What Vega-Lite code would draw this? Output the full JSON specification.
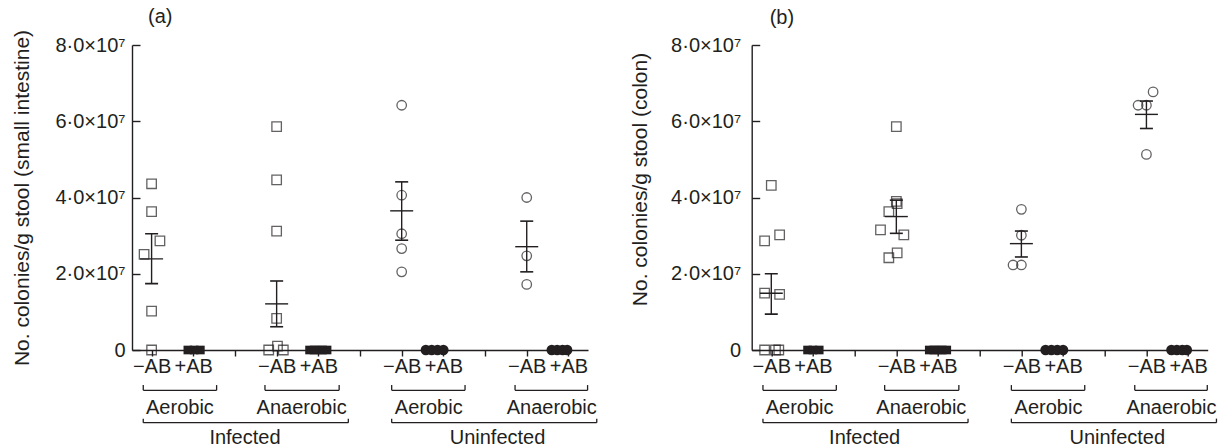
{
  "$schema": "https://vega.github.io/schema/vega-lite/v6.json",
  "background": "white",
  "padding": {"left": 11, "top": 7, "right": 5, "bottom": 5},
  "config": {
    "view": {"stroke": null},
    "font": "Liberation Sans",
    "axis": {"domainColor": "#231f20", "domainWidth": 1.4, "tickColor": "#231f20", "tickWidth": 1.4, "labelColor": "#231f20", "labelFont": "Liberation Sans", "labelFontSize": 20, "titleColor": "#231f20", "titleFont": "Liberation Sans", "titleFontSize": 21, "titleFontWeight": "normal", "grid": false, "labelFlush": false, "labelOverlap": false},
    "title": {"font": "Liberation Sans", "fontSize": 20, "fontWeight": "normal", "color": "#231f20", "anchor": "start", "frame": "group"}
  },
  "datasets": {
    "points": [
      {"panel": "a", "pos": 1.0, "value": 43600000, "status": "Infected", "ab": "-AB"},
      {"panel": "a", "pos": 1.0, "value": 36300000, "status": "Infected", "ab": "-AB"},
      {"panel": "a", "pos": 1.2, "value": 28600000, "status": "Infected", "ab": "-AB"},
      {"panel": "a", "pos": 0.82, "value": 25100000, "status": "Infected", "ab": "-AB"},
      {"panel": "a", "pos": 1.0, "value": 10200000, "status": "Infected", "ab": "-AB"},
      {"panel": "a", "pos": 1.0, "value": 0, "status": "Infected", "ab": "-AB"},
      {"panel": "a", "pos": 1.87, "value": 0, "status": "Infected", "ab": "+AB"},
      {"panel": "a", "pos": 2.02, "value": 0, "status": "Infected", "ab": "+AB"},
      {"panel": "a", "pos": 2.17, "value": 0, "status": "Infected", "ab": "+AB"},
      {"panel": "a", "pos": 4.0, "value": 58600000, "status": "Infected", "ab": "-AB"},
      {"panel": "a", "pos": 4.0, "value": 44600000, "status": "Infected", "ab": "-AB"},
      {"panel": "a", "pos": 4.0, "value": 31200000, "status": "Infected", "ab": "-AB"},
      {"panel": "a", "pos": 4.0, "value": 8300000, "status": "Infected", "ab": "-AB"},
      {"panel": "a", "pos": 3.81, "value": 0, "status": "Infected", "ab": "-AB"},
      {"panel": "a", "pos": 4.16, "value": 0, "status": "Infected", "ab": "-AB"},
      {"panel": "a", "pos": 4.02, "value": 1000000, "status": "Infected", "ab": "-AB"},
      {"panel": "a", "pos": 4.79, "value": 0, "status": "Infected", "ab": "+AB"},
      {"panel": "a", "pos": 4.9, "value": 0, "status": "Infected", "ab": "+AB"},
      {"panel": "a", "pos": 5.0, "value": 0, "status": "Infected", "ab": "+AB"},
      {"panel": "a", "pos": 5.1, "value": 0, "status": "Infected", "ab": "+AB"},
      {"panel": "a", "pos": 5.21, "value": 0, "status": "Infected", "ab": "+AB"},
      {"panel": "a", "pos": 7.0, "value": 64200000, "status": "Uninfected", "ab": "-AB"},
      {"panel": "a", "pos": 7.0, "value": 40600000, "status": "Uninfected", "ab": "-AB"},
      {"panel": "a", "pos": 7.0, "value": 30500000, "status": "Uninfected", "ab": "-AB"},
      {"panel": "a", "pos": 7.0, "value": 26600000, "status": "Uninfected", "ab": "-AB"},
      {"panel": "a", "pos": 7.0, "value": 20500000, "status": "Uninfected", "ab": "-AB"},
      {"panel": "a", "pos": 7.58, "value": 0, "status": "Uninfected", "ab": "+AB"},
      {"panel": "a", "pos": 7.72, "value": 0, "status": "Uninfected", "ab": "+AB"},
      {"panel": "a", "pos": 7.86, "value": 0, "status": "Uninfected", "ab": "+AB"},
      {"panel": "a", "pos": 8.0, "value": 0, "status": "Uninfected", "ab": "+AB"},
      {"panel": "a", "pos": 10.0, "value": 40000000, "status": "Uninfected", "ab": "-AB"},
      {"panel": "a", "pos": 10.0, "value": 24700000, "status": "Uninfected", "ab": "-AB"},
      {"panel": "a", "pos": 10.0, "value": 17200000, "status": "Uninfected", "ab": "-AB"},
      {"panel": "a", "pos": 10.6, "value": 0, "status": "Uninfected", "ab": "+AB"},
      {"panel": "a", "pos": 10.73, "value": 0, "status": "Uninfected", "ab": "+AB"},
      {"panel": "a", "pos": 10.86, "value": 0, "status": "Uninfected", "ab": "+AB"},
      {"panel": "a", "pos": 10.97, "value": 0, "status": "Uninfected", "ab": "+AB"},
      {"panel": "b", "pos": 1.0, "value": 43200000, "status": "Infected", "ab": "-AB"},
      {"panel": "b", "pos": 0.84, "value": 28600000, "status": "Infected", "ab": "-AB"},
      {"panel": "b", "pos": 1.2, "value": 30200000, "status": "Infected", "ab": "-AB"},
      {"panel": "b", "pos": 0.84, "value": 14900000, "status": "Infected", "ab": "-AB"},
      {"panel": "b", "pos": 1.2, "value": 14600000, "status": "Infected", "ab": "-AB"},
      {"panel": "b", "pos": 0.84, "value": 0, "status": "Infected", "ab": "-AB"},
      {"panel": "b", "pos": 1.1, "value": 0, "status": "Infected", "ab": "-AB"},
      {"panel": "b", "pos": 1.18, "value": 0, "status": "Infected", "ab": "-AB"},
      {"panel": "b", "pos": 1.87, "value": 0, "status": "Infected", "ab": "+AB"},
      {"panel": "b", "pos": 2.0, "value": 0, "status": "Infected", "ab": "+AB"},
      {"panel": "b", "pos": 2.15, "value": 0, "status": "Infected", "ab": "+AB"},
      {"panel": "b", "pos": 4.0, "value": 58600000, "status": "Infected", "ab": "-AB"},
      {"panel": "b", "pos": 4.0, "value": 39000000, "status": "Infected", "ab": "-AB"},
      {"panel": "b", "pos": 4.02, "value": 38400000, "status": "Infected", "ab": "-AB"},
      {"panel": "b", "pos": 3.82, "value": 36300000, "status": "Infected", "ab": "-AB"},
      {"panel": "b", "pos": 3.62, "value": 31500000, "status": "Infected", "ab": "-AB"},
      {"panel": "b", "pos": 4.18, "value": 30200000, "status": "Infected", "ab": "-AB"},
      {"panel": "b", "pos": 4.02, "value": 25500000, "status": "Infected", "ab": "-AB"},
      {"panel": "b", "pos": 3.82, "value": 24200000, "status": "Infected", "ab": "-AB"},
      {"panel": "b", "pos": 4.79, "value": 0, "status": "Infected", "ab": "+AB"},
      {"panel": "b", "pos": 4.9, "value": 0, "status": "Infected", "ab": "+AB"},
      {"panel": "b", "pos": 5.0, "value": 0, "status": "Infected", "ab": "+AB"},
      {"panel": "b", "pos": 5.1, "value": 0, "status": "Infected", "ab": "+AB"},
      {"panel": "b", "pos": 5.21, "value": 0, "status": "Infected", "ab": "+AB"},
      {"panel": "b", "pos": 7.0, "value": 36900000, "status": "Uninfected", "ab": "-AB"},
      {"panel": "b", "pos": 7.0, "value": 30100000, "status": "Uninfected", "ab": "-AB"},
      {"panel": "b", "pos": 6.8, "value": 22300000, "status": "Uninfected", "ab": "-AB"},
      {"panel": "b", "pos": 7.0, "value": 22300000, "status": "Uninfected", "ab": "-AB"},
      {"panel": "b", "pos": 7.58, "value": 0, "status": "Uninfected", "ab": "+AB"},
      {"panel": "b", "pos": 7.72, "value": 0, "status": "Uninfected", "ab": "+AB"},
      {"panel": "b", "pos": 7.86, "value": 0, "status": "Uninfected", "ab": "+AB"},
      {"panel": "b", "pos": 8.0, "value": 0, "status": "Uninfected", "ab": "+AB"},
      {"panel": "b", "pos": 10.16, "value": 67700000, "status": "Uninfected", "ab": "-AB"},
      {"panel": "b", "pos": 9.8, "value": 64200000, "status": "Uninfected", "ab": "-AB"},
      {"panel": "b", "pos": 10.0, "value": 64200000, "status": "Uninfected", "ab": "-AB"},
      {"panel": "b", "pos": 10.0, "value": 51300000, "status": "Uninfected", "ab": "-AB"},
      {"panel": "b", "pos": 10.6, "value": 0, "status": "Uninfected", "ab": "+AB"},
      {"panel": "b", "pos": 10.73, "value": 0, "status": "Uninfected", "ab": "+AB"},
      {"panel": "b", "pos": 10.86, "value": 0, "status": "Uninfected", "ab": "+AB"},
      {"panel": "b", "pos": 10.97, "value": 0, "status": "Uninfected", "ab": "+AB"}
    ],
    "summary": [
      {"panel": "a", "pos": 1, "mean": 23900000, "lo": 17400000, "hi": 30500000},
      {"panel": "a", "pos": 4, "mean": 12100000, "lo": 6100000, "hi": 18100000},
      {"panel": "a", "pos": 7, "mean": 36500000, "lo": 28800000, "hi": 44100000},
      {"panel": "a", "pos": 10, "mean": 27100000, "lo": 20500000, "hi": 33800000},
      {"panel": "b", "pos": 1, "mean": 14900000, "lo": 9400000, "hi": 20000000},
      {"panel": "b", "pos": 4, "mean": 35000000, "lo": 30600000, "hi": 39300000},
      {"panel": "b", "pos": 7, "mean": 27900000, "lo": 24400000, "hi": 31200000},
      {"panel": "b", "pos": 10, "mean": 61800000, "lo": 58100000, "hi": 65300000}
    ],
    "brackets": [
      {"level": "sub", "x1": 0.8, "x2": 2.56, "mid": 1.68, "label": "Aerobic"},
      {"level": "sub", "x1": 3.72, "x2": 5.5, "mid": 4.6, "label": "Anaerobic"},
      {"level": "sub", "x1": 6.76, "x2": 8.52, "mid": 7.65, "label": "Aerobic"},
      {"level": "sub", "x1": 9.72, "x2": 11.46, "mid": 10.6, "label": "Anaerobic"},
      {"level": "top", "x1": 0.8, "x2": 5.72, "mid": 3.24, "label": "Infected"},
      {"level": "top", "x1": 6.76, "x2": 11.68, "mid": 9.3, "label": "Uninfected"}
    ]
  },
  "hconcat": [
    {
      "width": 456,
      "height": 305,
      "title": {"text": "(a)", "dx": 16, "offset": 2},
      "layer": [
        {
          "data": {"name": "points"},
          "transform": [{"filter": "datum.panel === 'a' && datum.ab === '-AB'"}],
          "mark": {"type": "point", "filled": false, "strokeWidth": 1.3, "color": "#231f20", "size": 90},
          "encoding": {
            "x": {"field": "pos", "type": "quantitative", "scale": {"domain": [0.53, 11.47], "nice": false, "zero": false},
              "axis": {"title": null, "values": [1, 2, 3, 4, 5, 6, 7, 8, 9, 10, 11], "labelExpr": "datum.value % 3 === 1 ? '−AB' : (datum.value % 3 === 2 ? '+AB' : '')", "tickSize": 6, "labelPadding": 0}},
            "y": {"field": "value", "type": "quantitative", "title": "No. colonies/g stool (small intestine)", "scale": {"domain": [0, 80000000], "nice": false},
              "axis": {"title": "No. colonies/g stool (small intestine)", "values": [0, 20000000, 40000000, 60000000, 80000000], "labelExpr": "datum.value === 0 ? '0' : replace(format(datum.value / 10000000, '.1f'), '.', '·') + '×10⁷'", "tickSize": -8, "labelPadding": 15, "titlePadding": 22}},
            "shape": {"field": "status", "type": "nominal", "scale": {"domain": ["Infected", "Uninfected"], "range": ["square", "circle"]}, "legend": null}
          }
        },
        {
          "data": {"name": "points"},
          "transform": [{"filter": "datum.panel === 'a' && datum.ab === '+AB'"}],
          "mark": {"type": "point", "filled": true, "opacity": 1, "color": "#231f20"},
          "encoding": {
            "x": {"field": "pos", "type": "quantitative", "title": null},
            "y": {"field": "value", "type": "quantitative"},
            "shape": {"field": "status", "type": "nominal", "legend": null},
            "size": {"field": "status", "type": "nominal", "scale": {"domain": ["Infected", "Uninfected"], "range": [75, 110]}, "legend": null}
          }
        },
        {
          "data": {"name": "summary"},
          "transform": [{"filter": "datum.panel === 'a'"}],
          "mark": {"type": "rule", "color": "#231f20", "strokeWidth": 1.4},
          "encoding": {
            "x": {"field": "pos", "type": "quantitative", "title": null},
            "y": {"field": "lo", "type": "quantitative"},
            "y2": {"field": "hi"}
          }
        },
        {
          "data": {"name": "summary"},
          "transform": [{"filter": "datum.panel === 'a'"}],
          "mark": {"type": "tick", "orient": "horizontal", "size": 23, "thickness": 1.4, "color": "#231f20", "opacity": 1},
          "encoding": {
            "x": {"field": "pos", "type": "quantitative", "title": null},
            "y": {"field": "mean", "type": "quantitative"}
          }
        },
        {
          "data": {"name": "summary"},
          "transform": [{"filter": "datum.panel === 'a'"}],
          "mark": {"type": "tick", "orient": "horizontal", "size": 13, "thickness": 1.6, "color": "#231f20", "opacity": 1},
          "encoding": {
            "x": {"field": "pos", "type": "quantitative", "title": null},
            "y": {"field": "lo", "type": "quantitative"}
          }
        },
        {
          "data": {"name": "summary"},
          "transform": [{"filter": "datum.panel === 'a'"}],
          "mark": {"type": "tick", "orient": "horizontal", "size": 13, "thickness": 1.6, "color": "#231f20", "opacity": 1},
          "encoding": {
            "x": {"field": "pos", "type": "quantitative", "title": null},
            "y": {"field": "hi", "type": "quantitative"}
          }
        },
        {
          "data": {"name": "brackets"},
          "transform": [{"filter": "datum.level === 'sub'"}],
          "mark": {"type": "rule", "color": "#231f20", "strokeWidth": 1.3},
          "encoding": {
            "x": {"field": "x1", "type": "quantitative", "title": null},
            "x2": {"field": "x2"},
            "y": {"datum": -10570000}
          }
        },
        {
          "data": {"name": "brackets"},
          "transform": [{"filter": "datum.level === 'sub'"}],
          "mark": {"type": "rule", "color": "#231f20", "strokeWidth": 1.3},
          "encoding": {
            "x": {"field": "x1", "type": "quantitative", "title": null},
            "y": {"datum": -9200000},
            "y2": {"datum": -10570000}
          }
        },
        {
          "data": {"name": "brackets"},
          "transform": [{"filter": "datum.level === 'sub'"}],
          "mark": {"type": "rule", "color": "#231f20", "strokeWidth": 1.3},
          "encoding": {
            "x": {"field": "x2", "type": "quantitative", "title": null},
            "y": {"datum": -9200000},
            "y2": {"datum": -10570000}
          }
        },
        {
          "data": {"name": "brackets"},
          "transform": [{"filter": "datum.level === 'sub'"}],
          "mark": {"type": "text", "color": "#231f20", "fontSize": 20, "align": "center", "baseline": "middle"},
          "encoding": {
            "x": {"field": "mid", "type": "quantitative", "title": null},
            "y": {"datum": -15130000},
            "text": {"field": "label"}
          }
        },
        {
          "data": {"name": "brackets"},
          "transform": [{"filter": "datum.level === 'top'"}],
          "mark": {"type": "rule", "color": "#231f20", "strokeWidth": 1.3},
          "encoding": {
            "x": {"field": "x1", "type": "quantitative", "title": null},
            "x2": {"field": "x2"},
            "y": {"datum": -19070000}
          }
        },
        {
          "data": {"name": "brackets"},
          "transform": [{"filter": "datum.level === 'top'"}],
          "mark": {"type": "rule", "color": "#231f20", "strokeWidth": 1.3},
          "encoding": {
            "x": {"field": "x1", "type": "quantitative", "title": null},
            "y": {"datum": -18000000},
            "y2": {"datum": -19070000}
          }
        },
        {
          "data": {"name": "brackets"},
          "transform": [{"filter": "datum.level === 'top'"}],
          "mark": {"type": "rule", "color": "#231f20", "strokeWidth": 1.3},
          "encoding": {
            "x": {"field": "x2", "type": "quantitative", "title": null},
            "y": {"datum": -18000000},
            "y2": {"datum": -19070000}
          }
        },
        {
          "data": {"name": "brackets"},
          "transform": [{"filter": "datum.level === 'top'"}],
          "mark": {"type": "text", "color": "#231f20", "fontSize": 20, "align": "center", "baseline": "middle"},
          "encoding": {
            "x": {"field": "mid", "type": "quantitative", "title": null},
            "y": {"datum": -23000000},
            "text": {"field": "label"}
          }
        }
      ]
    },
    {
      "width": 456,
      "height": 305,
      "title": {"text": "(b)", "dx": 18, "offset": 7},
      "layer": [
        {
          "data": {"name": "points"},
          "transform": [{"filter": "datum.panel === 'b' && datum.ab === '-AB'"}],
          "mark": {"type": "point", "filled": false, "strokeWidth": 1.3, "color": "#231f20", "size": 90},
          "encoding": {
            "x": {"field": "pos", "type": "quantitative", "scale": {"domain": [0.53, 11.47], "nice": false, "zero": false},
              "axis": {"title": null, "values": [1, 2, 3, 4, 5, 6, 7, 8, 9, 10, 11], "labelExpr": "datum.value % 3 === 1 ? '−AB' : (datum.value % 3 === 2 ? '+AB' : '')", "tickSize": 6, "labelPadding": 0}},
            "y": {"field": "value", "type": "quantitative", "title": "No. colonies/g stool (colon)", "scale": {"domain": [0, 80000000], "nice": false},
              "axis": {"title": "No. colonies/g stool (colon)", "titleY": 134, "values": [0, 20000000, 40000000, 60000000, 80000000], "labelExpr": "datum.value === 0 ? '0' : replace(format(datum.value / 10000000, '.1f'), '.', '·') + '×10⁷'", "tickSize": -8, "labelPadding": 19, "titlePadding": 20}},
            "shape": {"field": "status", "type": "nominal", "scale": {"domain": ["Infected", "Uninfected"], "range": ["square", "circle"]}, "legend": null}
          }
        },
        {
          "data": {"name": "points"},
          "transform": [{"filter": "datum.panel === 'b' && datum.ab === '+AB'"}],
          "mark": {"type": "point", "filled": true, "opacity": 1, "color": "#231f20"},
          "encoding": {
            "x": {"field": "pos", "type": "quantitative", "title": null},
            "y": {"field": "value", "type": "quantitative"},
            "shape": {"field": "status", "type": "nominal", "legend": null},
            "size": {"field": "status", "type": "nominal", "scale": {"domain": ["Infected", "Uninfected"], "range": [75, 110]}, "legend": null}
          }
        },
        {
          "data": {"name": "summary"},
          "transform": [{"filter": "datum.panel === 'b'"}],
          "mark": {"type": "rule", "color": "#231f20", "strokeWidth": 1.4},
          "encoding": {
            "x": {"field": "pos", "type": "quantitative", "title": null},
            "y": {"field": "lo", "type": "quantitative"},
            "y2": {"field": "hi"}
          }
        },
        {
          "data": {"name": "summary"},
          "transform": [{"filter": "datum.panel === 'b'"}],
          "mark": {"type": "tick", "orient": "horizontal", "size": 23, "thickness": 1.4, "color": "#231f20", "opacity": 1},
          "encoding": {
            "x": {"field": "pos", "type": "quantitative", "title": null},
            "y": {"field": "mean", "type": "quantitative"}
          }
        },
        {
          "data": {"name": "summary"},
          "transform": [{"filter": "datum.panel === 'b'"}],
          "mark": {"type": "tick", "orient": "horizontal", "size": 13, "thickness": 1.6, "color": "#231f20", "opacity": 1},
          "encoding": {
            "x": {"field": "pos", "type": "quantitative", "title": null},
            "y": {"field": "lo", "type": "quantitative"}
          }
        },
        {
          "data": {"name": "summary"},
          "transform": [{"filter": "datum.panel === 'b'"}],
          "mark": {"type": "tick", "orient": "horizontal", "size": 13, "thickness": 1.6, "color": "#231f20", "opacity": 1},
          "encoding": {
            "x": {"field": "pos", "type": "quantitative", "title": null},
            "y": {"field": "hi", "type": "quantitative"}
          }
        },
        {
          "data": {"name": "brackets"},
          "transform": [{"filter": "datum.level === 'sub'"}],
          "mark": {"type": "rule", "color": "#231f20", "strokeWidth": 1.3},
          "encoding": {
            "x": {"field": "x1", "type": "quantitative", "title": null},
            "x2": {"field": "x2"},
            "y": {"datum": -10570000}
          }
        },
        {
          "data": {"name": "brackets"},
          "transform": [{"filter": "datum.level === 'sub'"}],
          "mark": {"type": "rule", "color": "#231f20", "strokeWidth": 1.3},
          "encoding": {
            "x": {"field": "x1", "type": "quantitative", "title": null},
            "y": {"datum": -9200000},
            "y2": {"datum": -10570000}
          }
        },
        {
          "data": {"name": "brackets"},
          "transform": [{"filter": "datum.level === 'sub'"}],
          "mark": {"type": "rule", "color": "#231f20", "strokeWidth": 1.3},
          "encoding": {
            "x": {"field": "x2", "type": "quantitative", "title": null},
            "y": {"datum": -9200000},
            "y2": {"datum": -10570000}
          }
        },
        {
          "data": {"name": "brackets"},
          "transform": [{"filter": "datum.level === 'sub'"}],
          "mark": {"type": "text", "color": "#231f20", "fontSize": 20, "align": "center", "baseline": "middle"},
          "encoding": {
            "x": {"field": "mid", "type": "quantitative", "title": null},
            "y": {"datum": -15130000},
            "text": {"field": "label"}
          }
        },
        {
          "data": {"name": "brackets"},
          "transform": [{"filter": "datum.level === 'top'"}],
          "mark": {"type": "rule", "color": "#231f20", "strokeWidth": 1.3},
          "encoding": {
            "x": {"field": "x1", "type": "quantitative", "title": null},
            "x2": {"field": "x2"},
            "y": {"datum": -19070000}
          }
        },
        {
          "data": {"name": "brackets"},
          "transform": [{"filter": "datum.level === 'top'"}],
          "mark": {"type": "rule", "color": "#231f20", "strokeWidth": 1.3},
          "encoding": {
            "x": {"field": "x1", "type": "quantitative", "title": null},
            "y": {"datum": -18000000},
            "y2": {"datum": -19070000}
          }
        },
        {
          "data": {"name": "brackets"},
          "transform": [{"filter": "datum.level === 'top'"}],
          "mark": {"type": "rule", "color": "#231f20", "strokeWidth": 1.3},
          "encoding": {
            "x": {"field": "x2", "type": "quantitative", "title": null},
            "y": {"datum": -18000000},
            "y2": {"datum": -19070000}
          }
        },
        {
          "data": {"name": "brackets"},
          "transform": [{"filter": "datum.level === 'top'"}],
          "mark": {"type": "text", "color": "#231f20", "fontSize": 20, "align": "center", "baseline": "middle"},
          "encoding": {
            "x": {"field": "mid", "type": "quantitative", "title": null},
            "y": {"datum": -23000000},
            "text": {"field": "label"}
          }
        }
      ]
    }
  ],
  "spacing": 163.7,
  "bounds": "flush"
}
